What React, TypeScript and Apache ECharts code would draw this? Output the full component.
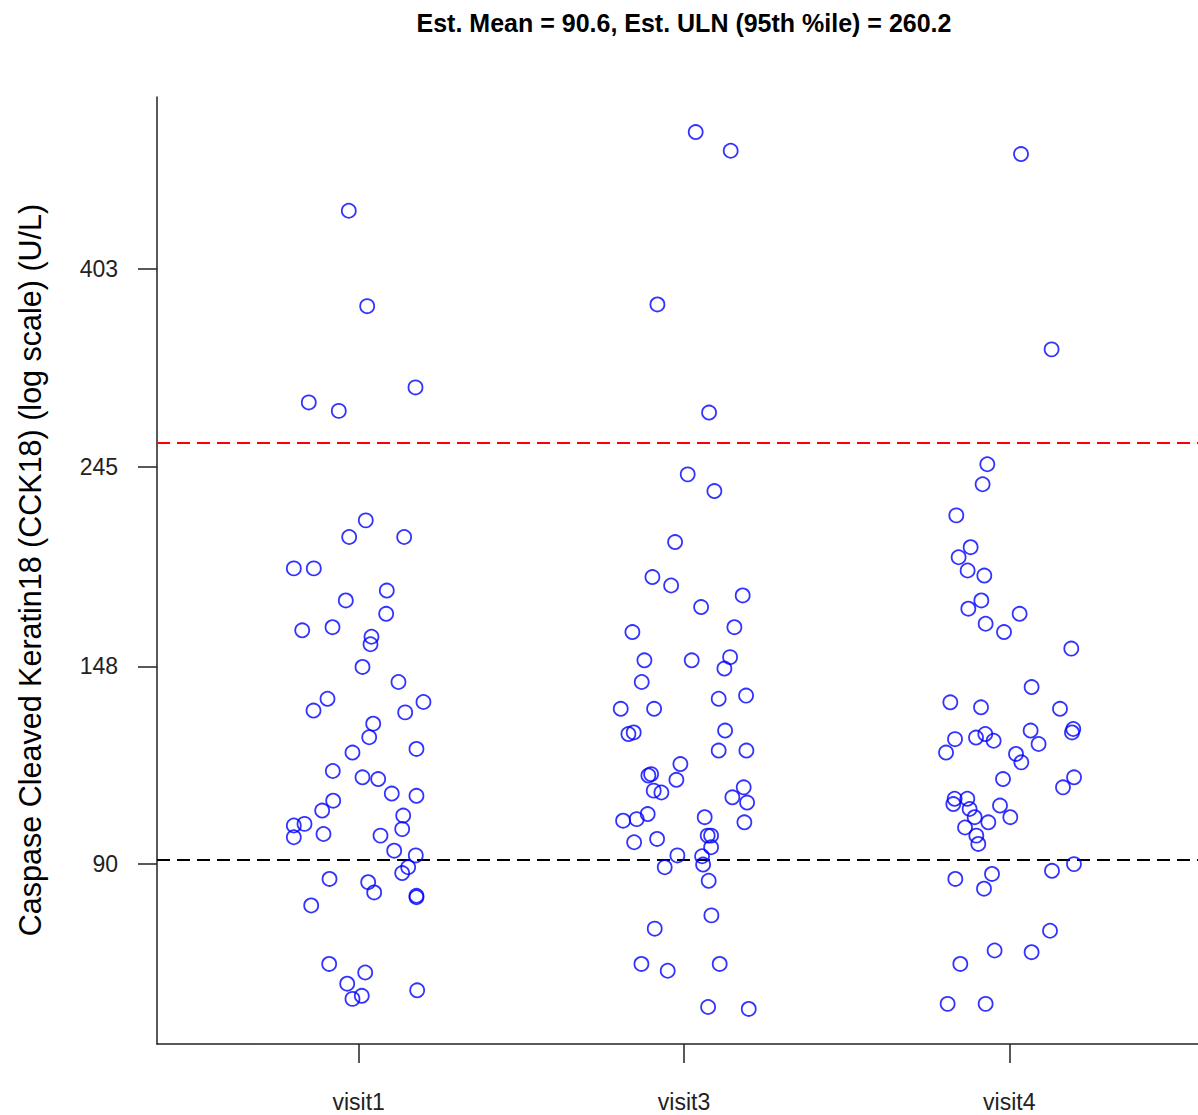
import React, { useEffect, useRef } from "react";
import * as echarts from "echarts";

const categories = ["visit1", "visit3", "visit4"];

const visit1Values = [466.9, 367.1, 299.1, 288.0, 281.9, 213.9, 205.1, 205.1, 189.5, 189.5,
  179.2, 174.8, 169.0, 162.1, 163.4, 159.5, 156.5, 147.8, 142.3, 136.4,
  132.4, 135.3, 131.8, 128.1, 123.8, 120.2, 119.1, 113.7, 111.9, 111.4,
  106.8, 107.4, 105.5, 102.9, 101.6, 99.5, 99.1, 98.2, 96.2, 97.0,
  96.6, 93.0, 91.9, 89.2, 87.9, 86.6, 85.9, 83.7, 83.0, 82.7,
  81.0, 69.9, 68.4, 66.5, 64.0, 64.5, 65.4];
const visit1Jitter = [-0.0304, 0.0261, 0.1746, -0.1534, -0.0612, 0.0218, -0.0292, 0.1398, -0.1994, -0.1380,
  0.0864, -0.0396, 0.0845, -0.1736, -0.0805, 0.0393, 0.0363, 0.0117, 0.1223, -0.0959,
  -0.1389, 0.1991, 0.1429, 0.0446, 0.0323, 0.1776, -0.0191, -0.0796, 0.0117, 0.0599,
  0.1776, 0.1017, -0.0784, -0.1122, 0.1368, -0.1666, -0.1994, 0.1337, -0.1994, -0.1082,
  0.0670, 0.1091, 0.1755, 0.1521, 0.1337, -0.0897, 0.0292, 0.0476, 0.1776, 0.1776,
  -0.1460, -0.0907, 0.0200, -0.0353, -0.0191, 0.0095, 0.1798];

const visit3Values = [569.4, 543.2, 368.7, 280.7, 240.2, 230.3, 202.5, 185.4, 181.5, 177.0,
  171.9, 161.4, 163.4, 150.3, 150.3, 151.5, 147.2, 142.3, 136.4, 137.5,
  133.0, 133.0, 124.8, 125.3, 125.9, 119.7, 119.7, 115.7, 112.4, 112.8,
  111.2, 108.2, 107.7, 109.1, 106.4, 105.0, 102.0, 100.3, 100.7, 101.2,
  99.9, 96.6, 96.6, 95.0, 95.8, 93.8, 91.9, 91.7, 89.8, 89.2,
  86.2, 79.0, 76.4, 69.9, 68.7, 69.9, 62.7, 62.4];
const visit3Jitter = [0.0360, 0.1435, -0.0817, 0.0771, 0.0114, 0.0934, -0.0274, -0.0971, -0.0396, 0.1804,
  0.0526, -0.1586, 0.1549, -0.1217, 0.0237, 0.1417, 0.1242, -0.1300, 0.1066, 0.1908,
  -0.1945, -0.0919, -0.1709, -0.1546, 0.1263, 0.1066, 0.1918, -0.0111, -0.1094, -0.1011,
  -0.0234, -0.0931, -0.0695, 0.1835, 0.1487, 0.1939, -0.1116, -0.1872, -0.1454, 0.0636,
  0.1856, 0.0728, 0.0833, -0.1533, -0.0827, 0.0833, -0.0203, 0.0556, 0.0587, -0.0593,
  0.0759, 0.0842, -0.0900, -0.1309, -0.0501, 0.1097, 0.0741, 0.1990];

const visit4Values = [538.7, 329.2, 246.4, 234.3, 216.6, 199.9, 194.9, 188.5, 186.1, 174.8,
  171.2, 169.0, 164.8, 161.4, 154.8, 140.5, 135.2, 133.5, 133.0, 123.2,
  119.1, 123.7, 124.8, 122.7, 125.9, 121.7, 126.4, 125.3, 118.7, 116.2,
  111.4, 111.9, 109.1, 106.0, 104.6, 106.0, 103.3, 101.2, 104.2, 101.2,
  99.9, 98.6, 96.6, 94.6, 89.9, 88.4, 86.6, 87.7, 84.5, 76.0,
  72.3, 72.0, 69.9, 63.2, 63.2];
const visit4Jitter = [0.0360, 0.1300, -0.0676, -0.0821, -0.1629, -0.1189, -0.1558, -0.1282, -0.0768, -0.0860,
  -0.1260, 0.0317, -0.0728, -0.0163, 0.1905, 0.0685, -0.1813, -0.0870, 0.1558, -0.1669,
  -0.1945, -0.1023, -0.0738, -0.0482, 0.0655, 0.0900, 0.1967, 0.1927, 0.0206, 0.0369,
  -0.0194, 0.1990, 0.1650, -0.1681, -0.1721, -0.1291, -0.1220, -0.1066, -0.0286, 0.0031,
  -0.0645, -0.1361, -0.1014, -0.0953, 0.1988, 0.1312, -0.1659, -0.0532, -0.0778, 0.1251,
  -0.0452, 0.0685, -0.1506, -0.1896, -0.0728];

const meanValue = 90.6;
const ulnValue = 260.2;
const yTickLabels = [90, 148, 245, 403];
const titleText = "Est. Mean = 90.6, Est. ULN (95th %ile) = 260.2";
const yAxisTitle = "Caspase Cleaved Keratin18 (CCK18) (log scale) (U/L)";

const FONT = "'Liberation Sans', Arial, sans-serif";

const groups = [
  { values: visit1Values, jitter: visit1Jitter },
  { values: visit3Values, jitter: visit3Jitter },
  { values: visit4Values, jitter: visit4Jitter },
];

export default function App() {
  const ref = useRef<HTMLDivElement>(null);
  useEffect(() => {
    if (!ref.current) return;
    const chart = echarts.init(ref.current, null, { renderer: "svg" });

    const allLogs: number[] = [];
    groups.forEach((g) => g.values.forEach((v) => allLogs.push(Math.log(v))));
    const lo = Math.min(...allLogs);
    const hi = Math.max(...allLogs);
    const pad = 0.04 * (hi - lo);

    const yTicks = yTickLabels.map((v) => Math.log(v));
    const blue = "#0000ff";

    const series: any[] = groups.map((g, gi) => ({
      type: "scatter",
      name: categories[gi],
      symbol: "circle",
      symbolSize: 14,
      itemStyle: { color: "rgba(0,0,0,0)", borderColor: blue, borderWidth: 1.8 },
      data: g.values.map((v, i) => [gi + 1 + g.jitter[i], Math.log(v)]),
      z: 3,
    }));
    series[0].markLine = {
      silent: true,
      symbol: ["none", "none"],
      label: { show: false },
      z: 2,
      data: [
        { yAxis: Math.log(meanValue), lineStyle: { color: "#000000", type: [13, 7], width: 2 } },
        { yAxis: Math.log(ulnValue), lineStyle: { color: "#ff0000", type: [13, 7], width: 2 } },
      ],
    };

    chart.setOption({
      animation: false,
      backgroundColor: "#ffffff",
      grid: { left: 157, right: -13, top: 97, bottom: 71, outerBoundsMode: "none" },
      xAxis: {
        type: "value",
        min: 0.38,
        max: 3.62,
        splitLine: { show: false },
        axisLine: { show: true, lineStyle: { color: "#222", width: 1.5 } },
        axisTick: { show: true, length: 19, customValues: [1, 2, 3], lineStyle: { color: "#222", width: 1.5 } },
        axisLabel: {
          customValues: [1, 2, 3],
          formatter: (v: number) => categories[Math.round(v) - 1],
          margin: 46,
          fontSize: 23,
          color: "#222",
          fontFamily: FONT,
        },
      },
      yAxis: {
        type: "value",
        min: lo - pad,
        max: hi + pad,
        splitLine: { show: false },
        axisLine: { show: true, lineStyle: { color: "#222", width: 1.5 } },
        axisTick: { show: true, length: 19, customValues: yTicks, lineStyle: { color: "#222", width: 1.5 } },
        axisLabel: {
          customValues: yTicks,
          formatter: (v: number) => String(Math.round(Math.exp(v))),
          margin: 39,
          fontSize: 23,
          color: "#222",
          fontFamily: FONT,
        },
      },
      graphic: [
        {
          type: "text",
          x: 684,
          y: 23,
          style: { text: titleText, fontSize: 25, fontWeight: "bold", fontFamily: FONT, fill: "#000", align: "center", verticalAlign: "middle" },
        },
        {
          type: "text",
          x: 30,
          y: 570,
          rotation: Math.PI / 2,
          style: { text: yAxisTitle, fontSize: 30.5, fontFamily: FONT, fill: "#000", align: "center", verticalAlign: "middle" },
        },
      ],
      series,
    });
    return () => chart.dispose();
  }, []);
  return <div ref={ref} style={{ position: "absolute", left: 0, top: 0, width: 1198, height: 1115 }} />;
}
